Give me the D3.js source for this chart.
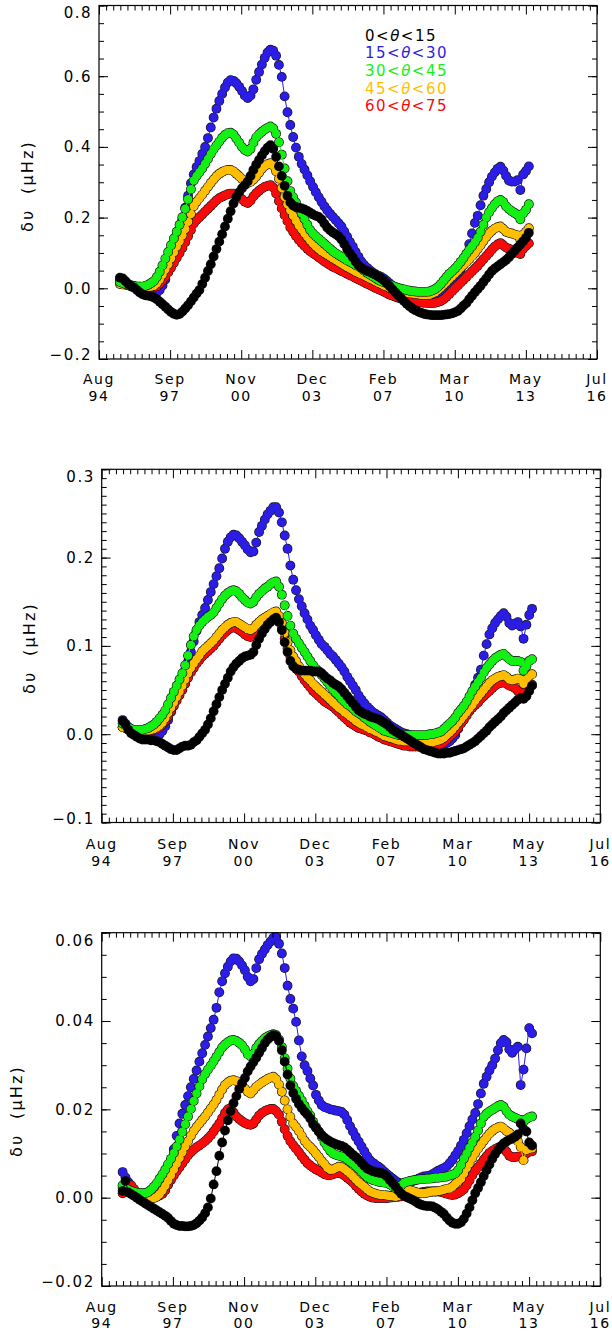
<!DOCTYPE html>
<html>
<head>
<meta charset="utf-8">
<script src="https://cdn.jsdelivr.net/npm/d3@7"></script>
<style>
  body { margin: 0; background: #fff; }
  text { font-family: "DejaVu Sans", sans-serif; }
</style>
</head>
<body>
<svg id="chart" width="612" height="1337"></svg>
<script>
"use strict"

// every series is sampled once per 1/8 year, starting mid 1995
const startYear = 1995.5
const stepYear = 0.125

const seriesNames = ["0<θ<15", "15<θ<30", "30<θ<45", "45<θ<60", "60<θ<75"]
const seriesColors = ["#000000", "#2b1de6", "#14f014", "#ffbe00", "#f80a0a"]

// x axis: 7 equal intervals from Aug 1994 to Jul 2016 (decimal years)
const xTickYears = [1994.58, 1997.71, 2000.84, 2003.97, 2007.10, 2010.24, 2013.37, 2016.50]
const xTickMonths = ["Aug", "Sep", "Nov", "Dec", "Feb", "Mar", "May", "Jul"]
const xTickYY = ["94", "97", "00", "03", "07", "10", "13", "16"]

// y tick labels per panel
const p1Ticks = [-0.2, 0.0, 0.2, 0.4, 0.6, 0.8]
const p2Ticks = [-0.1, 0.0, 0.1, 0.2, 0.3]
const p3Ticks = [-0.02, 0.00, 0.02, 0.04, 0.06]

// ---- top panel (uHz) ----
const p1Black = [
  0.030, 0.028, 0.020, 0.012, 0.006, 0.002, -0.005, -0.012,
  -0.017, -0.020, -0.021, -0.023, -0.026, -0.031, -0.038, -0.045,
  -0.052, -0.060, -0.067, -0.072, -0.075, -0.073, -0.066, -0.057,
  -0.048, -0.037, -0.026, -0.015, -0.005, 0.012, 0.030, 0.049,
  0.068, 0.090, 0.111, 0.132, 0.153, 0.175, 0.197, 0.218,
  0.240, 0.258, 0.272, 0.283, 0.292, 0.302, 0.318, 0.335,
  0.350, 0.363, 0.376, 0.388, 0.398, 0.405, 0.395, 0.372,
  0.345, 0.318, 0.290, 0.262, 0.243, 0.234, 0.230, 0.228,
  0.226, 0.223, 0.219, 0.214, 0.209, 0.205, 0.202, 0.195,
  0.183, 0.172, 0.164, 0.158, 0.153, 0.147, 0.138, 0.125,
  0.111, 0.099, 0.088, 0.076, 0.065, 0.058, 0.053, 0.049,
  0.046, 0.042, 0.038, 0.033, 0.028, 0.022, 0.014, 0.006,
  -0.003, -0.012, -0.020, -0.028, -0.036, -0.044, -0.051, -0.057,
  -0.062, -0.066, -0.069, -0.072, -0.074, -0.075, -0.076, -0.076,
  -0.076, -0.076, -0.075, -0.074, -0.073, -0.071, -0.068, -0.064,
  -0.057, -0.049, -0.042, -0.031, -0.021, -0.011, -0.002, 0.007,
  0.018, 0.028, 0.039, 0.049, 0.056, 0.062, 0.068, 0.074,
  0.080, 0.088, 0.097, 0.106, 0.115, 0.124, 0.133, 0.143,
  0.157]
const p1Blue = [
  0.025, 0.020, 0.014, 0.009, 0.005, 0.002, -0.001, -0.004,
  -0.006, -0.008, -0.010, -0.012, -0.013, -0.012, -0.005, 0.008,
  0.025, 0.048, 0.075, 0.104, 0.134, 0.163, 0.195, 0.228,
  0.262, 0.297, 0.322, 0.343, 0.360, 0.380, 0.400, 0.425,
  0.455, 0.483, 0.508, 0.530, 0.550, 0.568, 0.582, 0.589,
  0.587, 0.580, 0.570, 0.558, 0.545, 0.538, 0.545, 0.563,
  0.590, 0.612, 0.633, 0.652, 0.667, 0.675, 0.672, 0.658,
  0.632, 0.598, 0.543, 0.498, 0.462, 0.428, 0.398, 0.372,
  0.352, 0.336, 0.320, 0.303, 0.287, 0.272, 0.258, 0.245,
  0.232, 0.221, 0.211, 0.202, 0.193, 0.184, 0.175, 0.161,
  0.146, 0.131, 0.118, 0.103, 0.089, 0.076, 0.066, 0.058,
  0.051, 0.045, 0.040, 0.036, 0.032, 0.027, 0.021, 0.014,
  0.007, 0.001, -0.004, -0.009, -0.014, -0.019, -0.024, -0.029,
  -0.033, -0.036, -0.038, -0.039, -0.040, -0.040, -0.039, -0.036,
  -0.031, -0.026, -0.022, -0.013, -0.004, 0.005, 0.020, 0.036,
  0.054, 0.073, 0.093, 0.125, 0.155, 0.185, 0.205, 0.235,
  0.262, 0.281, 0.300, 0.316, 0.328, 0.338, 0.344, 0.333,
  0.318, 0.305, 0.302, 0.302, 0.306, 0.278, 0.322, 0.332,
  0.345]
const p1Green = [
  0.018, 0.015, 0.012, 0.010, 0.008, 0.006, 0.005, 0.005,
  0.005, 0.007, 0.010, 0.015, 0.021, 0.032, 0.047, 0.065,
  0.084, 0.103, 0.122, 0.141, 0.160, 0.180, 0.201, 0.225,
  0.252, 0.280, 0.305, 0.318, 0.328, 0.339, 0.352, 0.366,
  0.380, 0.393, 0.404, 0.415, 0.426, 0.434, 0.439, 0.440,
  0.435, 0.424, 0.412, 0.400, 0.391, 0.387, 0.395, 0.412,
  0.427, 0.436, 0.443, 0.449, 0.454, 0.458, 0.452, 0.437,
  0.413, 0.378, 0.339, 0.303, 0.275, 0.258, 0.243, 0.228,
  0.212, 0.196, 0.180, 0.165, 0.155, 0.147, 0.140, 0.133,
  0.126, 0.119, 0.112, 0.105, 0.099, 0.094, 0.089, 0.084,
  0.079, 0.075, 0.071, 0.066, 0.062, 0.057, 0.050, 0.044,
  0.039, 0.034, 0.029, 0.024, 0.020, 0.017, 0.014, 0.010,
  0.007, 0.004, 0.001, -0.001, -0.003, -0.005, -0.007, -0.008,
  -0.009, -0.010, -0.010, -0.010, -0.010, -0.009, -0.006, -0.002,
  0.004, 0.012, 0.022, 0.032, 0.041, 0.048, 0.056, 0.065,
  0.075, 0.086, 0.098, 0.109, 0.119, 0.130, 0.143, 0.160,
  0.180, 0.200, 0.215, 0.227, 0.238, 0.246, 0.250, 0.244,
  0.232, 0.224, 0.218, 0.213, 0.208, 0.195, 0.212, 0.222,
  0.238]
const p1Orange = [
  0.012, 0.011, 0.010, 0.008, 0.007, 0.006, 0.005, 0.005,
  0.004, 0.004, 0.004, 0.005, 0.007, 0.014, 0.025, 0.038,
  0.053, 0.068, 0.085, 0.102, 0.118, 0.133, 0.150, 0.168,
  0.188, 0.210, 0.232, 0.245, 0.255, 0.265, 0.276, 0.287,
  0.298, 0.308, 0.317, 0.324, 0.329, 0.333, 0.335, 0.335,
  0.331, 0.324, 0.317, 0.309, 0.301, 0.298, 0.301, 0.308,
  0.316, 0.327, 0.338, 0.346, 0.351, 0.354, 0.347, 0.331,
  0.310, 0.284, 0.258, 0.238, 0.221, 0.205, 0.191, 0.178,
  0.167, 0.156, 0.145, 0.135, 0.126, 0.118, 0.111, 0.105,
  0.100, 0.095, 0.090, 0.085, 0.080, 0.075, 0.070, 0.065,
  0.060, 0.056, 0.052, 0.047, 0.043, 0.040, 0.036, 0.032,
  0.028, 0.024, 0.020, 0.016, 0.012, 0.008, 0.005, 0.001,
  -0.003, -0.006, -0.009, -0.011, -0.012, -0.013, -0.014, -0.015,
  -0.016, -0.017, -0.018, -0.019, -0.019, -0.018, -0.015, -0.011,
  -0.005, 0.002, 0.010, 0.018, 0.026, 0.034, 0.042, 0.050,
  0.058, 0.066, 0.074, 0.082, 0.091, 0.100, 0.111, 0.122,
  0.134, 0.145, 0.155, 0.163, 0.169, 0.173, 0.175, 0.168,
  0.160, 0.157, 0.155, 0.152, 0.150, 0.137, 0.152, 0.160,
  0.170]
const p1Red = [
  0.020, 0.017, 0.013, 0.010, 0.007, 0.005, 0.004, 0.003,
  0.003, 0.002, 0.002, 0.002, 0.003, 0.006, 0.013, 0.022,
  0.033, 0.045, 0.058, 0.072, 0.086, 0.100, 0.114, 0.130,
  0.147, 0.165, 0.183, 0.193, 0.201, 0.209, 0.217, 0.225,
  0.233, 0.241, 0.249, 0.255, 0.259, 0.263, 0.266, 0.268,
  0.268, 0.265, 0.259, 0.252, 0.245, 0.241, 0.248, 0.260,
  0.269, 0.276, 0.282, 0.287, 0.290, 0.292, 0.285, 0.268,
  0.247, 0.226, 0.207, 0.190, 0.172, 0.160, 0.148, 0.137,
  0.128, 0.120, 0.112, 0.105, 0.099, 0.094, 0.088, 0.082,
  0.076, 0.071, 0.066, 0.061, 0.057, 0.053, 0.049, 0.045,
  0.041, 0.037, 0.033, 0.029, 0.025, 0.021, 0.017, 0.013,
  0.009, 0.005, 0.001, -0.003, -0.006, -0.010, -0.014, -0.018,
  -0.021, -0.024, -0.027, -0.029, -0.031, -0.033, -0.035, -0.037,
  -0.038, -0.039, -0.040, -0.041, -0.041, -0.042, -0.042, -0.041,
  -0.039, -0.036, -0.031, -0.024, -0.016, -0.008, 0.000, 0.008,
  0.016, 0.024, 0.032, 0.040, 0.048, 0.056, 0.064, 0.073,
  0.082, 0.091, 0.100, 0.110, 0.118, 0.124, 0.128, 0.122,
  0.115, 0.112, 0.108, 0.104, 0.100, 0.097, 0.112, 0.120,
  0.127]

// ---- middle panel (uHz) ----
const p2Black = [
  0.015, 0.011, 0.005, 0.001, -0.001, -0.003, -0.005, -0.006,
  -0.006, -0.006, -0.007, -0.007, -0.008, -0.009, -0.011, -0.013,
  -0.015, -0.017, -0.018, -0.018, -0.016, -0.014, -0.013, -0.013,
  -0.012, -0.009, -0.007, -0.003, 0.001, 0.005, 0.011, 0.018,
  0.026, 0.034, 0.042, 0.050, 0.057, 0.064, 0.071, 0.076,
  0.080, 0.083, 0.086, 0.088, 0.089, 0.090, 0.093, 0.101,
  0.108, 0.114, 0.119, 0.124, 0.127, 0.130, 0.132, 0.127,
  0.118, 0.104, 0.093, 0.083, 0.077, 0.074, 0.073, 0.072,
  0.072, 0.072, 0.072, 0.071, 0.071, 0.071, 0.069, 0.066,
  0.063, 0.061, 0.058, 0.056, 0.054, 0.051, 0.047, 0.043,
  0.039, 0.035, 0.031, 0.027, 0.025, 0.023, 0.022, 0.020,
  0.019, 0.018, 0.017, 0.015, 0.013, 0.011, 0.008, 0.005,
  0.003, 0.001, -0.001, -0.003, -0.005, -0.007, -0.009, -0.011,
  -0.013, -0.015, -0.017, -0.018, -0.019, -0.020, -0.021, -0.022,
  -0.022, -0.022, -0.021, -0.021, -0.020, -0.019, -0.018, -0.017,
  -0.016, -0.014, -0.012, -0.010, -0.008, -0.005, -0.002, 0.001,
  0.004, 0.008, 0.011, 0.014, 0.017, 0.020, 0.024, 0.027,
  0.030, 0.033, 0.036, 0.039, 0.041, 0.040, 0.043, 0.049,
  0.055]
const p2Blue = [
  0.016, 0.012, 0.008, 0.005, 0.003, 0.002, 0.001, 0.000,
  -0.001, -0.001, -0.002, -0.002, -0.001, 0.000, 0.004, 0.009,
  0.016, 0.025, 0.035, 0.045, 0.054, 0.063, 0.072, 0.082,
  0.093, 0.105, 0.117, 0.127, 0.135, 0.143, 0.152, 0.161,
  0.170, 0.179, 0.188, 0.199, 0.210, 0.218, 0.223, 0.226,
  0.225, 0.222, 0.218, 0.214, 0.209, 0.206, 0.207, 0.217,
  0.229, 0.236, 0.243, 0.249, 0.253, 0.257, 0.257, 0.251,
  0.240, 0.225, 0.210, 0.191, 0.175, 0.163, 0.153, 0.145,
  0.137, 0.130, 0.123, 0.118, 0.112, 0.107, 0.102, 0.099,
  0.095, 0.091, 0.088, 0.084, 0.080, 0.076, 0.071, 0.065,
  0.060, 0.055, 0.050, 0.044, 0.039, 0.035, 0.031, 0.028,
  0.025, 0.023, 0.021, 0.019, 0.016, 0.013, 0.010, 0.008,
  0.006, 0.004, 0.002, 0.001, 0.000, -0.001, -0.003, -0.004,
  -0.006, -0.007, -0.009, -0.010, -0.011, -0.011, -0.012, -0.012,
  -0.012, -0.011, -0.010, -0.008, -0.005, -0.001, 0.006, 0.013,
  0.020, 0.029, 0.038, 0.047, 0.056, 0.064, 0.073, 0.089,
  0.102, 0.113, 0.120, 0.126, 0.130, 0.134, 0.137, 0.133,
  0.126, 0.123, 0.125, 0.127, 0.122, 0.108, 0.124, 0.135,
  0.142]
const p2Green = [
  0.012, 0.010, 0.008, 0.006, 0.005, 0.005, 0.005, 0.005,
  0.006, 0.007, 0.009, 0.011, 0.014, 0.018, 0.022, 0.027,
  0.034, 0.041, 0.048, 0.055, 0.062, 0.069, 0.078, 0.089,
  0.101, 0.111, 0.118, 0.123, 0.127, 0.130, 0.133, 0.135,
  0.138, 0.143, 0.148, 0.153, 0.157, 0.160, 0.162, 0.163,
  0.162, 0.159, 0.155, 0.152, 0.149, 0.148, 0.150, 0.155,
  0.159, 0.162, 0.165, 0.167, 0.170, 0.172, 0.173, 0.167,
  0.158, 0.146, 0.134, 0.123, 0.114, 0.108, 0.103, 0.098,
  0.093, 0.088, 0.083, 0.078, 0.074, 0.071, 0.067, 0.063,
  0.059, 0.055, 0.051, 0.047, 0.044, 0.040, 0.037, 0.034,
  0.032, 0.029, 0.026, 0.024, 0.022, 0.019, 0.017, 0.014,
  0.012, 0.010, 0.008, 0.006, 0.004, 0.003, 0.002, 0.001,
  0.000, -0.001, -0.001, -0.001, -0.001, -0.001, -0.001, -0.001,
  -0.001, -0.001, -0.001, -0.001, 0.000, 0.000, 0.001, 0.002,
  0.003, 0.006, 0.009, 0.012, 0.015, 0.019, 0.024, 0.028,
  0.032, 0.037, 0.043, 0.049, 0.054, 0.059, 0.064, 0.070,
  0.075, 0.079, 0.083, 0.086, 0.088, 0.090, 0.091, 0.088,
  0.085, 0.083, 0.083, 0.083, 0.082, 0.072, 0.077, 0.083,
  0.085]
const p2Orange = [
  0.008, 0.007, 0.006, 0.005, 0.004, 0.004, 0.004, 0.004,
  0.004, 0.004, 0.005, 0.006, 0.008, 0.010, 0.013, 0.018,
  0.024, 0.030, 0.036, 0.042, 0.048, 0.055, 0.062, 0.069,
  0.075, 0.080, 0.085, 0.089, 0.094, 0.097, 0.100, 0.103,
  0.106, 0.110, 0.114, 0.118, 0.121, 0.124, 0.126, 0.127,
  0.127, 0.125, 0.123, 0.121, 0.119, 0.118, 0.120, 0.124,
  0.127, 0.130, 0.132, 0.134, 0.136, 0.138, 0.139, 0.134,
  0.126, 0.115, 0.104, 0.095, 0.088, 0.083, 0.077, 0.072,
  0.068, 0.064, 0.061, 0.057, 0.054, 0.051, 0.048, 0.045,
  0.042, 0.039, 0.036, 0.033, 0.030, 0.028, 0.025, 0.023,
  0.020, 0.018, 0.015, 0.013, 0.011, 0.010, 0.008, 0.006,
  0.005, 0.003, 0.002, 0.000, -0.002, -0.003, -0.004, -0.005,
  -0.006, -0.007, -0.007, -0.008, -0.008, -0.008, -0.009, -0.009,
  -0.009, -0.009, -0.009, -0.009, -0.009, -0.009, -0.008, -0.007,
  -0.006, -0.004, -0.001, 0.002, 0.005, 0.009, 0.013, 0.017,
  0.021, 0.025, 0.029, 0.033, 0.038, 0.042, 0.046, 0.050,
  0.054, 0.058, 0.061, 0.063, 0.065, 0.066, 0.067, 0.065,
  0.062, 0.061, 0.062, 0.063, 0.062, 0.057, 0.062, 0.066,
  0.068]
const p2Red = [
  0.008, 0.007, 0.006, 0.005, 0.004, 0.003, 0.003, 0.003,
  0.003, 0.003, 0.004, 0.005, 0.006, 0.008, 0.011, 0.015,
  0.020, 0.026, 0.032, 0.038, 0.044, 0.050, 0.057, 0.064,
  0.070, 0.075, 0.080, 0.084, 0.088, 0.091, 0.094, 0.097,
  0.100, 0.104, 0.108, 0.112, 0.115, 0.118, 0.120, 0.121,
  0.120, 0.118, 0.116, 0.113, 0.111, 0.110, 0.112, 0.117,
  0.121, 0.124, 0.126, 0.128, 0.130, 0.132, 0.132, 0.127,
  0.119, 0.108, 0.097, 0.088, 0.081, 0.076, 0.071, 0.066,
  0.061, 0.057, 0.053, 0.049, 0.046, 0.043, 0.040, 0.037,
  0.035, 0.033, 0.031, 0.028, 0.025, 0.022, 0.019, 0.016,
  0.013, 0.011, 0.009, 0.007, 0.006, 0.005, 0.004, 0.002,
  0.001, -0.001, -0.003, -0.004, -0.006, -0.007, -0.008, -0.009,
  -0.010, -0.011, -0.012, -0.013, -0.013, -0.014, -0.014, -0.014,
  -0.014, -0.014, -0.014, -0.014, -0.014, -0.014, -0.013, -0.012,
  -0.011, -0.009, -0.006, -0.003, 0.000, 0.003, 0.007, 0.012,
  0.016, 0.021, 0.026, 0.030, 0.033, 0.036, 0.040, 0.043,
  0.046, 0.049, 0.052, 0.055, 0.057, 0.058, 0.059, 0.057,
  0.055, 0.054, 0.052, 0.049, 0.046, 0.047, 0.050, 0.054,
  0.056]

// ---- bottom panel (uHz) ----
const p3Black = [
  0.0015, 0.0038, 0.0012, 0.0008, 0.0004, 0.0000, -0.0005, -0.0009,
  -0.0013, -0.0017, -0.0021, -0.0025, -0.0029, -0.0033, -0.0037, -0.0041,
  -0.0046, -0.0053, -0.0059, -0.0062, -0.0064, -0.0064, -0.0065, -0.0065,
  -0.0064, -0.0062, -0.0058, -0.0052, -0.0045, -0.0035, -0.0022, -0.0002,
  0.0030, 0.0060, 0.0095, 0.0125, 0.0152, 0.0175, 0.0196, 0.0214,
  0.0230, 0.0246, 0.0259, 0.0271, 0.0286, 0.0297, 0.0307, 0.0317,
  0.0328, 0.0339, 0.0350, 0.0358, 0.0364, 0.0368, 0.0366, 0.0355,
  0.0334, 0.0308, 0.0279, 0.0254, 0.0237, 0.0224, 0.0212, 0.0203,
  0.0195, 0.0188, 0.0179, 0.0166, 0.0158, 0.0150, 0.0142, 0.0136,
  0.0131, 0.0127, 0.0124, 0.0121, 0.0119, 0.0117, 0.0114, 0.0109,
  0.0103, 0.0097, 0.0092, 0.0086, 0.0079, 0.0072, 0.0066, 0.0063,
  0.0060, 0.0058, 0.0057, 0.0056, 0.0053, 0.0048, 0.0040, 0.0033,
  0.0025, 0.0016, 0.0009, 0.0004, 0.0001, -0.0002, -0.0005, -0.0009,
  -0.0013, -0.0016, -0.0018, -0.0019, -0.0019, -0.0020, -0.0023, -0.0027,
  -0.0032, -0.0037, -0.0045, -0.0052, -0.0057, -0.0059, -0.0059, -0.0056,
  -0.0048, -0.0036, -0.0022, -0.0006, 0.0010, 0.0022, 0.0035, 0.0049,
  0.0062, 0.0075, 0.0088, 0.0099, 0.0108, 0.0116, 0.0123, 0.0127,
  0.0131, 0.0134, 0.0138, 0.0143, 0.0168, 0.0155, 0.0150, 0.0125,
  0.0118]
const p3Blue = [
  0.0058, 0.0046, 0.0035, 0.0025, 0.0017, 0.0011, 0.0006, 0.0003,
  0.0002, 0.0002, 0.0002, 0.0003, 0.0006, 0.0013, 0.0028, 0.0046,
  0.0062, 0.0084, 0.0110, 0.0140, 0.0168, 0.0190, 0.0210, 0.0230,
  0.0250, 0.0269, 0.0288, 0.0308, 0.0327, 0.0346, 0.0365, 0.0384,
  0.0403, 0.0430, 0.0465, 0.0490, 0.0508, 0.0523, 0.0535, 0.0542,
  0.0541, 0.0535, 0.0526, 0.0515, 0.0500, 0.0490, 0.0495, 0.0520,
  0.0540, 0.0552, 0.0562, 0.0572, 0.0580, 0.0588, 0.0590, 0.0575,
  0.0553, 0.0520, 0.0480, 0.0450, 0.0428, 0.0398, 0.0356, 0.0320,
  0.0300, 0.0287, 0.0270, 0.0254, 0.0233, 0.0220, 0.0210, 0.0205,
  0.0203, 0.0200, 0.0199, 0.0197, 0.0196, 0.0194, 0.0188, 0.0176,
  0.0162, 0.0150, 0.0138, 0.0127, 0.0116, 0.0105, 0.0094, 0.0085,
  0.0079, 0.0074, 0.0070, 0.0065, 0.0059, 0.0053, 0.0048, 0.0043,
  0.0038, 0.0034, 0.0032, 0.0031, 0.0032, 0.0034, 0.0037, 0.0040,
  0.0043, 0.0046, 0.0048, 0.0049, 0.0050, 0.0053, 0.0057, 0.0061,
  0.0064, 0.0067, 0.0071, 0.0078, 0.0086, 0.0096, 0.0106, 0.0118,
  0.0131, 0.0146, 0.0162, 0.0177, 0.0192, 0.0212, 0.0236, 0.0258,
  0.0274, 0.0288, 0.0300, 0.0315, 0.0334, 0.0350, 0.0357, 0.0352,
  0.0336, 0.0328, 0.0336, 0.0342, 0.0255, 0.0290, 0.0338, 0.0384,
  0.0372]
const p3Green = [
  0.0028, 0.0022, 0.0018, 0.0015, 0.0013, 0.0011, 0.0010, 0.0010,
  0.0010, 0.0013, 0.0018, 0.0025, 0.0033, 0.0043, 0.0053, 0.0064,
  0.0076, 0.0088, 0.0101, 0.0116, 0.0132, 0.0149, 0.0166, 0.0184,
  0.0201, 0.0219, 0.0236, 0.0252, 0.0268, 0.0280, 0.0290, 0.0299,
  0.0309, 0.0319, 0.0330, 0.0340, 0.0347, 0.0352, 0.0356, 0.0357,
  0.0355, 0.0351, 0.0345, 0.0336, 0.0325, 0.0320, 0.0326, 0.0339,
  0.0348, 0.0355, 0.0361, 0.0365, 0.0368, 0.0370, 0.0368, 0.0358,
  0.0341, 0.0316, 0.0292, 0.0270, 0.0253, 0.0242, 0.0231, 0.0220,
  0.0208, 0.0196, 0.0186, 0.0172, 0.0160, 0.0150, 0.0138, 0.0125,
  0.0115, 0.0106, 0.0100, 0.0097, 0.0095, 0.0093, 0.0091, 0.0087,
  0.0082, 0.0078, 0.0072, 0.0066, 0.0059, 0.0053, 0.0047, 0.0043,
  0.0040, 0.0038, 0.0036, 0.0035, 0.0034, 0.0033, 0.0030, 0.0026,
  0.0021, 0.0022, 0.0028, 0.0034, 0.0036, 0.0038, 0.0039, 0.0040,
  0.0041, 0.0042, 0.0042, 0.0043, 0.0043, 0.0044, 0.0045, 0.0045,
  0.0046, 0.0047, 0.0048, 0.0050, 0.0052, 0.0055, 0.0062, 0.0074,
  0.0088, 0.0100, 0.0113, 0.0125, 0.0138, 0.0152, 0.0168, 0.0183,
  0.0190, 0.0195, 0.0199, 0.0203, 0.0207, 0.0210, 0.0206, 0.0196,
  0.0188, 0.0184, 0.0181, 0.0178, 0.0176, 0.0172, 0.0178, 0.0182,
  0.0184]
const p3Orange = [
  0.0022, 0.0020, 0.0016, 0.0011, 0.0008, 0.0005, 0.0003, 0.0001,
  -0.0001, -0.0002, -0.0002, -0.0001, 0.0002, 0.0008, 0.0016, 0.0027,
  0.0039, 0.0051, 0.0064, 0.0077, 0.0090, 0.0103, 0.0116, 0.0128,
  0.0140, 0.0151, 0.0160, 0.0168, 0.0176, 0.0184, 0.0193, 0.0202,
  0.0211, 0.0221, 0.0233, 0.0245, 0.0255, 0.0261, 0.0265, 0.0266,
  0.0264, 0.0259, 0.0254, 0.0247, 0.0240, 0.0236, 0.0243, 0.0251,
  0.0256, 0.0261, 0.0265, 0.0269, 0.0272, 0.0274, 0.0268, 0.0256,
  0.0240, 0.0220, 0.0200, 0.0183, 0.0168, 0.0160, 0.0151, 0.0140,
  0.0129, 0.0121, 0.0115, 0.0108, 0.0100, 0.0092, 0.0083, 0.0076,
  0.0068, 0.0063, 0.0064, 0.0067, 0.0070, 0.0069, 0.0065, 0.0060,
  0.0055, 0.0048, 0.0041, 0.0035, 0.0030, 0.0025, 0.0019, 0.0014,
  0.0011, 0.0009, 0.0007, 0.0006, 0.0006, 0.0005, 0.0004, 0.0003,
  0.0002, 0.0004, 0.0009, 0.0014, 0.0017, 0.0017, 0.0015, 0.0013,
  0.0011, 0.0010, 0.0010, 0.0011, 0.0013, 0.0014, 0.0014, 0.0015,
  0.0016, 0.0018, 0.0020, 0.0021, 0.0025, 0.0031, 0.0037, 0.0043,
  0.0055, 0.0067, 0.0078, 0.0090, 0.0101, 0.0111, 0.0120, 0.0129,
  0.0137, 0.0145, 0.0151, 0.0156, 0.0159, 0.0161, 0.0157, 0.0151,
  0.0147, 0.0141, 0.0134, 0.0128, 0.0115, 0.0085, 0.0108, 0.0111,
  0.0112]
const p3Red = [
  0.0010, 0.0014, 0.0022, 0.0028, 0.0020, 0.0011, 0.0006, 0.0004,
  0.0003, 0.0002, 0.0002, 0.0002, 0.0003, 0.0005, 0.0009, 0.0017,
  0.0029, 0.0040, 0.0050, 0.0060, 0.0069, 0.0078, 0.0087, 0.0096,
  0.0103, 0.0109, 0.0114, 0.0118, 0.0123, 0.0128, 0.0134, 0.0141,
  0.0150, 0.0159, 0.0168, 0.0180, 0.0192, 0.0200, 0.0203, 0.0193,
  0.0184, 0.0178, 0.0173, 0.0169, 0.0166, 0.0165, 0.0168, 0.0177,
  0.0186, 0.0192, 0.0196, 0.0199, 0.0201, 0.0201, 0.0196, 0.0188,
  0.0172, 0.0155, 0.0140, 0.0128, 0.0119, 0.0111, 0.0103, 0.0094,
  0.0086, 0.0078, 0.0073, 0.0068, 0.0064, 0.0061, 0.0057, 0.0053,
  0.0051, 0.0051, 0.0053, 0.0055, 0.0056, 0.0054, 0.0050, 0.0045,
  0.0040, 0.0034, 0.0027, 0.0020, 0.0014, 0.0009, 0.0005, 0.0002,
  0.0000, -0.0001, -0.0001, -0.0001, -0.0001, -0.0001, 0.0000, 0.0001,
  0.0002, 0.0002, 0.0003, 0.0004, 0.0005, 0.0006, 0.0006, 0.0008,
  0.0010, 0.0012, 0.0013, 0.0014, 0.0014, 0.0014, 0.0014, 0.0014,
  0.0013, 0.0011, 0.0009, 0.0007, 0.0006, 0.0007, 0.0010, 0.0014,
  0.0019, 0.0028, 0.0039, 0.0051, 0.0061, 0.0069, 0.0077, 0.0086,
  0.0094, 0.0101, 0.0106, 0.0110, 0.0113, 0.0116, 0.0115, 0.0104,
  0.0095, 0.0092, 0.0092, 0.0093, 0.0093, 0.0095, 0.0100, 0.0104,
  0.0105]

// layout of the three stacked panels
const panels = [
  {left: 99, right: 597, top: 5.5, bottom: 359, domain: [-0.2, 0.8], ticks: p1Ticks,
   minorStep: 0.05, fmt: ".1f", series: [p1Black, p1Blue, p1Green, p1Orange, p1Red],
   titleX: 33, titleY: 186, monthDy: 25, legend: true},
  {left: 101.7, right: 600.3, top: 469.3, bottom: 822.5, domain: [-0.1, 0.3], ticks: p2Ticks,
   minorStep: 0.01, fmt: ".1f", series: [p2Black, p2Blue, p2Green, p2Orange, p2Red],
   titleX: 35, titleY: 648, monthDy: 27, legend: false},
  {left: 101.7, right: 600.3, top: 932.7, bottom: 1286, domain: [-0.02, 0.06], ticks: p3Ticks,
   minorStep: 0.005, fmt: ".2f", series: [p3Black, p3Blue, p3Green, p3Orange, p3Red],
   titleX: 22, titleY: 1111, monthDy: 26, legend: false}
]

// blue underneath, black on top
const drawOrder = [1, 4, 3, 2, 0]

const svg = d3.select("#chart")

/**
* @param {Selection} sel an axis group
* @return {Selection} the group with ticks styled like the original
*/
function styleAxis(sel) {
    sel.select(".domain").remove()
    sel.selectAll(".tick line").attr("stroke", "#000").attr("stroke-width", 1)
    sel.selectAll("text")
	.attr("font-family", '"DejaVu Sans", sans-serif')
	.attr("font-size", 15)
	.attr("letter-spacing", 1.5)
	.attr("fill", "#000")
    return sel
}

panels.forEach(p => {
    let w = p.right - p.left,
	h = p.bottom - p.top

    let x = d3.scaleLinear()
	.domain([xTickYears[0], xTickYears[xTickYears.length - 1]])
	.range([0, w])
    let y = d3.scaleLinear().domain(p.domain).range([h, 0])

    let g = svg.append("g")
	.attr("transform", "translate(" + p.left + "," + p.top + ")")

    // series: dark rims first, then thin line, then the coloured fills,
    // so overlapping dots merge into a band with an outlined edge
    let line = d3.line().x(d => x(d.t)).y(d => y(d.v))
    drawOrder.forEach(si => {
	let pts = p.series[si].map((v, i) => ({t: startYear + i * stepYear, v: v}))
	let sg = g.append("g")
	sg.append("g")
	    .selectAll("circle")
	    .data(pts)
	    .enter().append("circle")
	    .attr("cx", d => x(d.t))
	    .attr("cy", d => y(d.v))
	    .attr("r", 4.9)
	    .attr("fill", "#141414")
	sg.append("path")
	    .datum(pts)
	    .attr("fill", "none")
	    .attr("stroke", seriesColors[si])
	    .attr("stroke-width", 1)
	    .attr("d", line)
	sg.append("g")
	    .selectAll("circle")
	    .data(pts)
	    .enter().append("circle")
	    .attr("cx", d => x(d.t))
	    .attr("cy", d => y(d.v))
	    .attr("r", 4.25)
	    .attr("fill", seriesColors[si])
    })

    // minor tick positions
    let yMinor = d3.range(p.domain[0], p.domain[1] + 1e-9, p.minorStep)
    let xMinor = []
    for (let i = 0; i < xTickYears.length - 1; i++)
	for (let k = 1; k < 10; k++)
	    xMinor.push(xTickYears[i] + k * (xTickYears[i + 1] - xTickYears[i]) / 10)

    // left axis with labels, clamped inside the frame at the ends
    let left = g.append("g")
	.call(d3.axisLeft(y).tickValues(p.ticks).tickSize(-9).tickSizeOuter(0)
	      .tickPadding(7).tickFormat(d3.format(p.fmt)))
    styleAxis(left)
    left.selectAll("text").attr("y", d => {
	let pos = y(d)
	return Math.max(7.5, Math.min(h - 4, pos)) - pos
    })
    styleAxis(g.append("g").call(d3.axisLeft(y).tickValues(yMinor).tickSize(-5).tickFormat("")))
    styleAxis(g.append("g").attr("transform", "translate(" + w + ",0)")
	      .call(d3.axisRight(y).tickValues(p.ticks).tickSize(-9).tickFormat("")))
    styleAxis(g.append("g").attr("transform", "translate(" + w + ",0)")
	      .call(d3.axisRight(y).tickValues(yMinor).tickSize(-5).tickFormat("")))
    styleAxis(g.append("g").attr("transform", "translate(0," + h + ")")
	      .call(d3.axisBottom(x).tickValues(xTickYears).tickSize(-9).tickFormat("")))
    styleAxis(g.append("g").attr("transform", "translate(0," + h + ")")
	      .call(d3.axisBottom(x).tickValues(xMinor).tickSize(-5).tickFormat("")))
    styleAxis(g.append("g")
	      .call(d3.axisTop(x).tickValues(xTickYears).tickSize(-9).tickFormat("")))
    styleAxis(g.append("g")
	      .call(d3.axisTop(x).tickValues(xMinor).tickSize(-5).tickFormat("")))

    g.append("rect")
	.attr("width", w)
	.attr("height", h)
	.attr("fill", "none")
	.attr("stroke", "#000")
	.attr("stroke-width", 1.2)

    // two line date labels, month over two digit year
    let xl = g.append("g")
	.attr("font-size", 14)
	.attr("letter-spacing", 1.6)
	.attr("text-anchor", "middle")
    let dl = xl.selectAll("text")
	.data(xTickYears)
	.enter().append("text")
	.attr("x", d => x(d))
	.attr("y", h + p.monthDy)
    dl.append("tspan").text((d, i) => xTickMonths[i])
    dl.append("tspan")
	.attr("x", d => x(d))
	.attr("dy", 16.5)
	.text((d, i) => xTickYY[i])

    // y title
    svg.append("text")
	.attr("transform", "translate(" + p.titleX + "," + p.titleY + ") rotate(-90)")
	.attr("text-anchor", "middle")
	.attr("font-size", 16)
	.attr("letter-spacing", 2.2)
	.style("white-space", "pre")
	.text("δυ  (μHz)")

    if (p.legend) {
	let lg = svg.append("g")
	    .attr("font-size", 15)
	    .attr("letter-spacing", 1.5)
	seriesNames.forEach((name, i) => {
	    let parts = name.split("θ")
	    let t = lg.append("text")
		.attr("x", 365)
		.attr("y", 40.5 + i * 17.7)
		.attr("fill", seriesColors[i])
	    t.append("tspan").text(parts[0])
	    t.append("tspan").attr("font-style", "italic").text("θ")
	    t.append("tspan").text(parts[1])
	})
    }
})
</script>
</body>
</html>
